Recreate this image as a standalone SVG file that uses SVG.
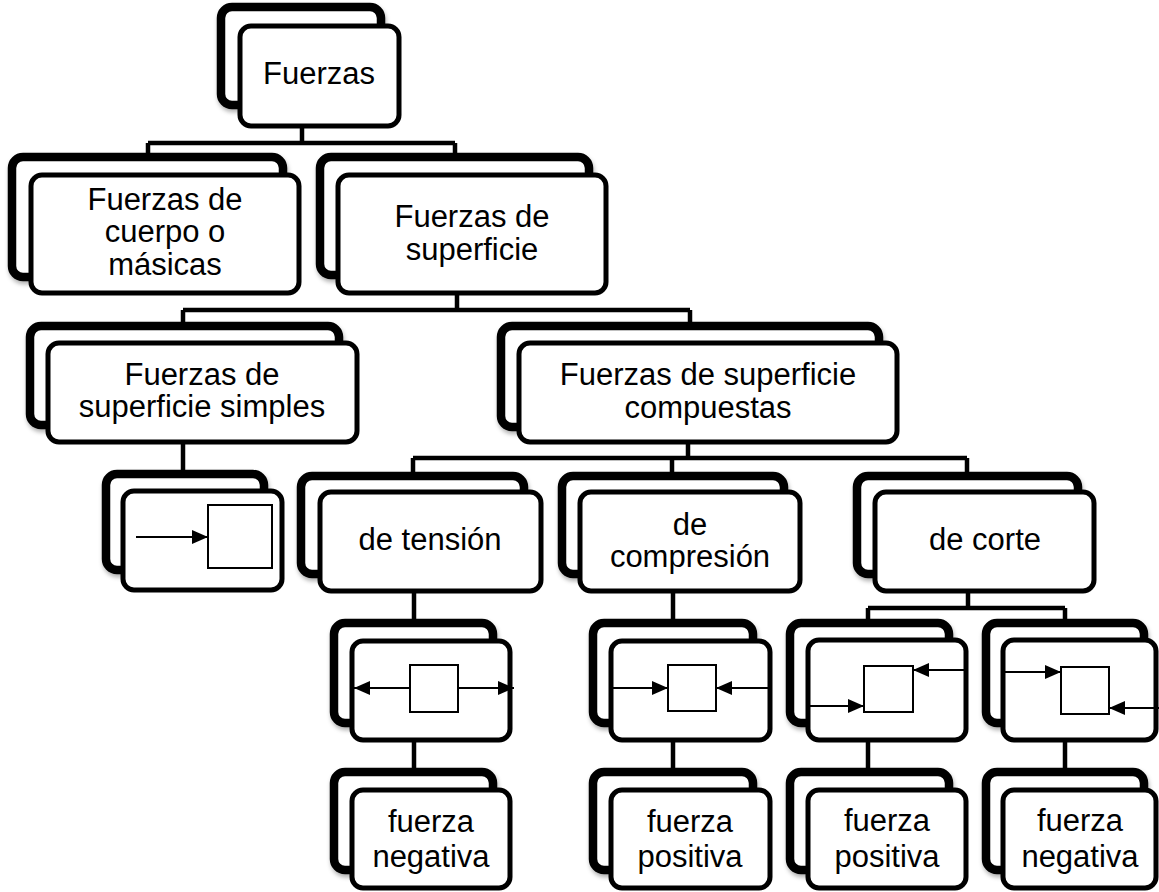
<svg xmlns="http://www.w3.org/2000/svg" width="1159" height="892" viewBox="0 0 1159 892">
<style>
.bk{fill:#fff;stroke:#000;stroke-width:8.5;filter:url(#sh)}
.fr{fill:#fff;stroke:#000;stroke-width:5}
.cn{fill:none;stroke:#000;stroke-width:4.5}
.t{font-family:"Liberation Sans",Arial,sans-serif;font-size:31px;text-anchor:middle;fill:#000}
.sq{fill:#fff;stroke:#000;stroke-width:2}
.ar{stroke:#000;stroke-width:2.2;marker-end:url(#ah)}
</style>
<defs>
<filter id="sh" x="-10%" y="-10%" width="125%" height="130%"><feDropShadow dx="1" dy="3" stdDeviation="2" flood-color="#000" flood-opacity="0.3"/></filter>
<marker id="ah" viewBox="0 0 16 14" refX="16" refY="7" markerWidth="16" markerHeight="14" markerUnits="userSpaceOnUse" orient="auto"><path d="M0,0 L16,7 L0,14 z" fill="#000"/></marker>
</defs>
<rect width="1159" height="892" fill="#fff"/>
<g id="connectors">
<path class="cn" d="M302,126 V143 M148,143 H455 M148,143 V156 M455,143 V156"/>
<path class="cn" d="M457,293 V310 M183,310 H690 M183,310 V325 M690,310 V325"/>
<path class="cn" d="M183,442 V473"/>
<path class="cn" d="M688,442 V458 M413,458 H967 M413,458 V475 M672,458 V475 M967,458 V475"/>
<path class="cn" d="M414,591 V622 M414,740 V771"/>
<path class="cn" d="M673,591 V622 M673,740 V771"/>
<path class="cn" d="M968,591 V608 M868,608 H1065 M868,608 V622 M1065,608 V622"/>
<path class="cn" d="M868,740 V771 M1065,740 V771"/>
</g>
<g id="n0">
<rect class="bk" x="221" y="7" width="160" height="98" rx="11"/>
<rect class="fr" x="240" y="26" width="159" height="100" rx="11"/>
<text class="t" x="319" y="84">Fuerzas</text>
</g>
<g id="n1">
<rect class="bk" x="12" y="157" width="271" height="120" rx="11"/>
<rect class="fr" x="31" y="175" width="268" height="118" rx="11"/>
<text class="t" x="165" y="210">Fuerzas de</text>
<text class="t" x="165" y="242">cuerpo o</text>
<text class="t" x="165" y="275">másicas</text>
</g>
<g id="n2">
<rect class="bk" x="320" y="157" width="269" height="118" rx="11"/>
<rect class="fr" x="338" y="175" width="268" height="118" rx="11"/>
<text class="t" x="472" y="227">Fuerzas de</text>
<text class="t" x="472" y="260">superficie</text>
</g>
<g id="n3">
<rect class="bk" x="30" y="326" width="309" height="99" rx="11"/>
<rect class="fr" x="48" y="343" width="309" height="99" rx="11"/>
<text class="t" x="202" y="385">Fuerzas de</text>
<text class="t" x="202" y="417">superficie simples</text>
</g>
<g id="n4">
<rect class="bk" x="501" y="326" width="378" height="101" rx="11"/>
<rect class="fr" x="519" y="343" width="378" height="99" rx="11"/>
<text class="t" x="708" y="385">Fuerzas de superficie</text>
<text class="t" x="708" y="418">compuestas</text>
</g>
<g id="n5">
<rect class="bk" x="106" y="474" width="158" height="96" rx="11"/>
<rect class="fr" x="123" y="491" width="159" height="99" rx="11"/>
<rect class="sq" x="208" y="505" width="64" height="63"/>
<line class="ar" x1="136" y1="537" x2="208" y2="537"/>
</g>
<g id="n6">
<rect class="bk" x="301" y="476" width="223" height="98" rx="11"/>
<rect class="fr" x="320" y="492" width="221" height="99" rx="11"/>
<text class="t" x="430" y="550">de tensión</text>
</g>
<g id="n7">
<rect class="bk" x="562" y="476" width="222" height="98" rx="11"/>
<rect class="fr" x="580" y="492" width="220" height="99" rx="11"/>
<text class="t" x="690" y="535">de</text>
<text class="t" x="690" y="567">compresión</text>
</g>
<g id="n8">
<rect class="bk" x="857" y="476" width="221" height="98" rx="11"/>
<rect class="fr" x="875" y="492" width="219" height="99" rx="11"/>
<text class="t" x="985" y="550">de corte</text>
</g>
<g id="n9">
<rect class="bk" x="334" y="623" width="159" height="100" rx="11"/>
<rect class="fr" x="352" y="641" width="158" height="99" rx="11"/>
<rect class="sq" x="410" y="665" width="48" height="47"/>
<line class="ar" x1="410" y1="688" x2="354" y2="688"/>
<line class="ar" x1="458" y1="688" x2="514" y2="688"/>
</g>
<g id="n10">
<rect class="bk" x="593" y="623" width="160" height="100" rx="11"/>
<rect class="fr" x="611" y="641" width="159" height="99" rx="11"/>
<rect class="sq" x="668" y="665" width="48" height="46"/>
<line class="ar" x1="612" y1="688" x2="668" y2="688"/>
<line class="ar" x1="768" y1="688" x2="716" y2="688"/>
</g>
<g id="n11">
<rect class="bk" x="790" y="623" width="159" height="100" rx="11"/>
<rect class="fr" x="808" y="640" width="158" height="100" rx="11"/>
<rect class="sq" x="864" y="666" width="49" height="46"/>
<line class="ar" x1="965" y1="670" x2="913" y2="670"/>
<line class="ar" x1="808" y1="706" x2="864" y2="706"/>
</g>
<g id="n12">
<rect class="bk" x="986" y="623" width="158" height="100" rx="11"/>
<rect class="fr" x="1003" y="640" width="153" height="100" rx="11"/>
<rect class="sq" x="1061" y="667" width="48" height="47"/>
<line class="ar" x1="1005" y1="672" x2="1061" y2="672"/>
<line class="ar" x1="1159" y1="708" x2="1109" y2="708"/>
</g>
<g id="n13">
<rect class="bk" x="334" y="772" width="159" height="98" rx="11"/>
<rect class="fr" x="352" y="790" width="158" height="98" rx="11"/>
<text class="t" x="431" y="832">fuerza</text>
<text class="t" x="431" y="867">negativa</text>
</g>
<g id="n14">
<rect class="bk" x="593" y="772" width="160" height="98" rx="11"/>
<rect class="fr" x="611" y="790" width="159" height="98" rx="11"/>
<text class="t" x="690" y="832">fuerza</text>
<text class="t" x="690" y="867">positiva</text>
</g>
<g id="n15">
<rect class="bk" x="790" y="772" width="159" height="98" rx="11"/>
<rect class="fr" x="808" y="790" width="158" height="98" rx="11"/>
<text class="t" x="887" y="831">fuerza</text>
<text class="t" x="887" y="867">positiva</text>
</g>
<g id="n16">
<rect class="bk" x="986" y="772" width="158" height="98" rx="11"/>
<rect class="fr" x="1003" y="790" width="153" height="98" rx="11"/>
<text class="t" x="1080" y="831">fuerza</text>
<text class="t" x="1080" y="867">negativa</text>
</g>
</svg>
